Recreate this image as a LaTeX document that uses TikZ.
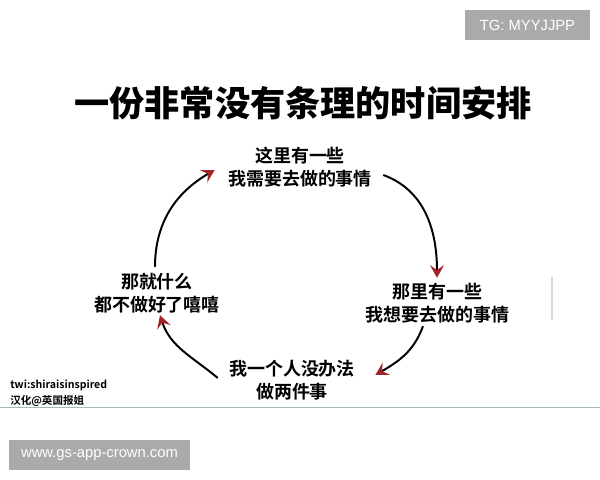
\documentclass[tikz,border=0pt]{standalone}
\usepackage{fontspec}
\setmainfont{Liberation Sans}
\newfontfamily\cjk{Noto Sans CJK SC Bold}
\newfontfamily\cjkden{Noto Sans CJK SC Black}
\usetikzlibrary{arrows.meta}
\definecolor{dodam}{HTML}{A3232B}
\definecolor{xamnhat}{HTML}{AAAAAA}
\definecolor{vien}{HTML}{A6BDA8}

\begin{document}
\begin{tikzpicture}[x=0.025cm, y=0.025cm,
    >={Stealth[length=9pt, width=10pt, inset=3.5pt, color=dodam]},
    o/.style={font=\cjk\fontsize{12.8}{16.3}\selectfont, align=center, inner sep=0pt},
    muiten/.style={->, line width=1.4pt, black},
    nhan/.style={fill=xamnhat, text=white, font=\fontsize{10.5}{12}\selectfont, inner sep=0pt}]
    \useasboundingbox (0,0) rectangle (600,480);
    
    % Nhãn góc
    \node[nhan, minimum width=3.125cm, minimum height=0.75cm] (tg) at (527.5,455) {TG: MYYJJPP};
    \node[nhan, minimum width=4.525cm, minimum height=0.75cm] (web) at (99.5,25) {www.gs-app-crown.com};
    
    % Tiêu đề
    \node[font=\cjkden\fontsize{25}{30}\selectfont, inner sep=0pt] (tieude) at (303,377) {一份非常没有条理的时间安排};
    
    % Các ô chữ
    \node[o] (tren) at (300,313) {这里有一些\\我需要去做的事情};
    \node[o] (phai) at (437,177) {那里有一些\\我想要去做的事情};
    \node[o] (duoi) at (292,100) {我一个人没办法\\做两件事};
    \node[o] (trai) at (157,187) {那就什么\\都不做好了嘻嘻};
    
    % Các mũi tên
    \draw[muiten] (trai.north) ++(-2,6) to[out=90, in=210] ([shift={(-13,-3)}]tren.west);
    \draw[muiten] ([shift={(11,-8)}]tren.east) to[out=-20, in=90] ([shift={(0,5)}]phai.north);
    \draw[muiten] ([shift={(-14,-3)}]phai.south) to[out=-110, in=30] ([shift={(20,5)}]duoi.east);
    \draw[muiten] ([shift={(-11,2)}]duoi.west) to[out=140, in=-72] ([shift={(3,-2)}]trai.south);
    
    % Chú thích
    \node[font=\cjk\fontsize{7.5}{11.3}\selectfont, align=left, anchor=west, inner sep=0pt] (nguon) at (10,87) {twi:shiraisinspired\\汉化@英国报姐};
    
    % Đường kẻ
    \draw[black!15, line width=0.8pt] (552,160) -- (552,203);
    \draw[vien, line width=0.7pt] (0,73) -- (600,73);
\end{tikzpicture}
\end{document}
